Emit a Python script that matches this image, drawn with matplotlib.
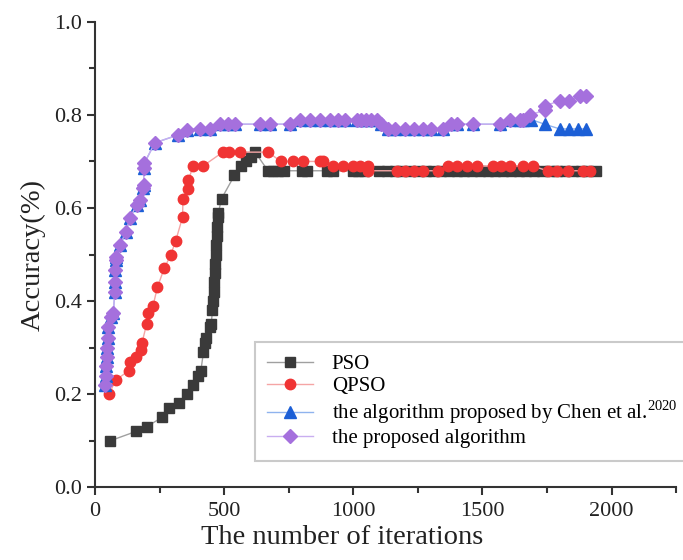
import matplotlib.pyplot as plt
from matplotlib.ticker import MultipleLocator, FormatStrFormatter

plt.rcParams['font.family'] = ['Liberation Serif', 'DejaVu Serif']
plt.rcParams['mathtext.fontset'] = 'custom'
plt.rcParams['mathtext.rm'] = 'Liberation Serif'

# Datos
pso_x = [60, 160, 200, 260, 285, 325, 355, 380, 400, 410, 420, 425, 430, 445, 450, 455, 457,
         459, 461, 463, 465, 467, 469, 472, 474, 476, 478, 490, 540, 565, 585, 605, 620, 670,
         690, 710, 730, 800, 820, 900, 920, 1000, 1020, 1040, 1100, 1130, 1160, 1190, 1220,
         1250, 1280, 1310, 1340, 1370, 1400, 1430, 1460, 1490, 1520, 1550, 1580, 1610, 1640,
         1670, 1700, 1730, 1760, 1790, 1820, 1850, 1880, 1910, 1940]
pso_y = [0.10, 0.12, 0.13, 0.15, 0.17, 0.18, 0.20, 0.22, 0.24, 0.25, 0.29, 0.31, 0.32, 0.345,
         0.35, 0.38, 0.40, 0.42, 0.44, 0.46, 0.48, 0.50, 0.52, 0.54, 0.56, 0.58, 0.59, 0.62,
         0.67, 0.69, 0.70, 0.71, 0.72, 0.68, 0.68, 0.68, 0.68, 0.68, 0.68, 0.68, 0.68, 0.68,
         0.68, 0.68, 0.68, 0.68, 0.68, 0.68, 0.68, 0.68, 0.68, 0.68, 0.68, 0.68, 0.68, 0.68,
         0.68, 0.68, 0.68, 0.68, 0.68, 0.68, 0.68, 0.68, 0.68, 0.68, 0.68, 0.68, 0.68, 0.68,
         0.68, 0.68, 0.68]

qpso_x = [55, 80, 130, 135, 160, 180, 182, 200, 205, 225, 242, 268, 294, 313, 339, 341, 360,
          362, 380, 418, 495, 520, 560, 670, 720, 765, 805, 870, 882, 920, 960, 1000, 1025,
          1056, 1058, 1170, 1200, 1235, 1270, 1327, 1366, 1400, 1440, 1478, 1540, 1570, 1605,
          1656, 1695, 1752, 1790, 1830, 1888, 1915]
qpso_y = [0.20, 0.23, 0.25, 0.27, 0.28, 0.295, 0.31, 0.35, 0.375, 0.39, 0.43, 0.47, 0.50,
          0.53, 0.58, 0.62, 0.64, 0.66, 0.69, 0.69, 0.72, 0.72, 0.72, 0.72, 0.70, 0.70, 0.70,
          0.70, 0.70, 0.69, 0.69, 0.69, 0.69, 0.69, 0.68, 0.68, 0.68, 0.68, 0.68, 0.68, 0.69,
          0.69, 0.69, 0.69, 0.69, 0.69, 0.69, 0.69, 0.69, 0.68, 0.68, 0.68, 0.68, 0.68]

# tramo comun de Chen et al. y del algoritmo propuesto
comun_x = [40, 42, 44, 46, 48, 50, 52, 64, 71, 77, 78, 79, 80, 82, 97, 120, 135, 161, 174,
           187, 188, 190, 191, 232, 322, 355, 406, 445, 484, 515, 541, 638, 677, 754, 793,
           832, 870, 910, 940, 967, 1013, 1030, 1050, 1070, 1090, 1109, 1134, 1160, 1199,
           1235, 1270, 1302, 1347, 1380, 1400, 1463, 1567, 1605, 1644, 1657]
comun_y = [0.22, 0.24, 0.26, 0.28, 0.30, 0.32, 0.345, 0.366, 0.374, 0.42, 0.44, 0.467,
           0.488, 0.495, 0.52, 0.549, 0.578, 0.606, 0.617, 0.642, 0.65, 0.685, 0.696, 0.74,
           0.757, 0.768, 0.77, 0.77, 0.78, 0.78, 0.78, 0.78, 0.78, 0.78, 0.79, 0.79, 0.79,
           0.79, 0.79, 0.79, 0.79, 0.79, 0.79, 0.79, 0.79, 0.78, 0.77, 0.77, 0.77, 0.77,
           0.77, 0.77, 0.77, 0.78, 0.78, 0.78, 0.78, 0.79, 0.79, 0.79]

chen_x = comun_x + [1689, 1741, 1799, 1837, 1870, 1902]
chen_y = comun_y + [0.79, 0.78, 0.77, 0.77, 0.77, 0.77]

prop_x = comun_x + [1683, 1741, 1743, 1799, 1837, 1876, 1902]
prop_y = comun_y + [0.80, 0.81, 0.82, 0.83, 0.83, 0.84, 0.84]

fig = plt.figure(figsize=(6.83, 5.6), dpi=100)
ax = fig.add_axes([0.139, 0.130, 0.851, 0.831])

ax.plot(pso_x, pso_y, '-', color='#a0a0a0', lw=1, marker='s', ms=6.5,
        mfc='#3a3a3a', mec='#3a3a3a', label='PSO')
ax.plot(qpso_x, qpso_y, '-', color='#f5a5a5', lw=1, marker='o', ms=7.5,
        mfc='#f03434', mec='#f03434', label='QPSO')
ax.plot(chen_x, chen_y, '-', color='#8fb3ee', lw=1, marker='^', ms=8.5,
        mfc='#1c5fd6', mec='#1c5fd6', label='the algorithm proposed by Chen et al.$^{2020}$')
ax.plot(prop_x, prop_y, '-', color='#c9aef0', lw=1, marker='D', ms=7.2,
        mfc='#a570dd', mec='#a570dd', label='the proposed algorithm')

ax.set_xlim(0, 2250)
ax.set_ylim(0, 1.0)
ax.xaxis.set_major_locator(MultipleLocator(500))
ax.xaxis.set_minor_locator(MultipleLocator(250))
ax.yaxis.set_major_locator(MultipleLocator(0.2))
ax.yaxis.set_minor_locator(MultipleLocator(0.1))
ax.yaxis.set_major_formatter(FormatStrFormatter('%.1f'))

for s in ['top', 'right']:
    ax.spines[s].set_visible(False)
for s in ['left', 'bottom']:
    ax.spines[s].set_linewidth(1.5)
    ax.spines[s].set_color('#333333')

ax.tick_params(which='major', direction='out', length=6, width=1.5, labelsize=16,
               color='#333333', labelcolor='#222222')
ax.tick_params(axis='x', which='major', pad=5)
ax.tick_params(which='minor', direction='out', length=4, width=1.5, color='#333333')

ax.set_xlabel('The number of iterations', fontsize=20.5, color='#222222')
ax.xaxis.set_label_coords(0.425, -0.082)
ax.set_ylabel('Accuracy(%)', fontsize=20.5, labelpad=6, color='#222222')

leg = ax.legend(loc='upper left', bbox_to_anchor=(0.275, 0.312), borderaxespad=0,
                fontsize=15, frameon=True, fancybox=False, handlelength=2.2,
                handletextpad=0.9, labelspacing=0.12, borderpad=0.6)
leg.get_frame().set_edgecolor('#bdbdbd')
leg.get_frame().set_linewidth(1.5)

plt.savefig('out.png', dpi=100)
